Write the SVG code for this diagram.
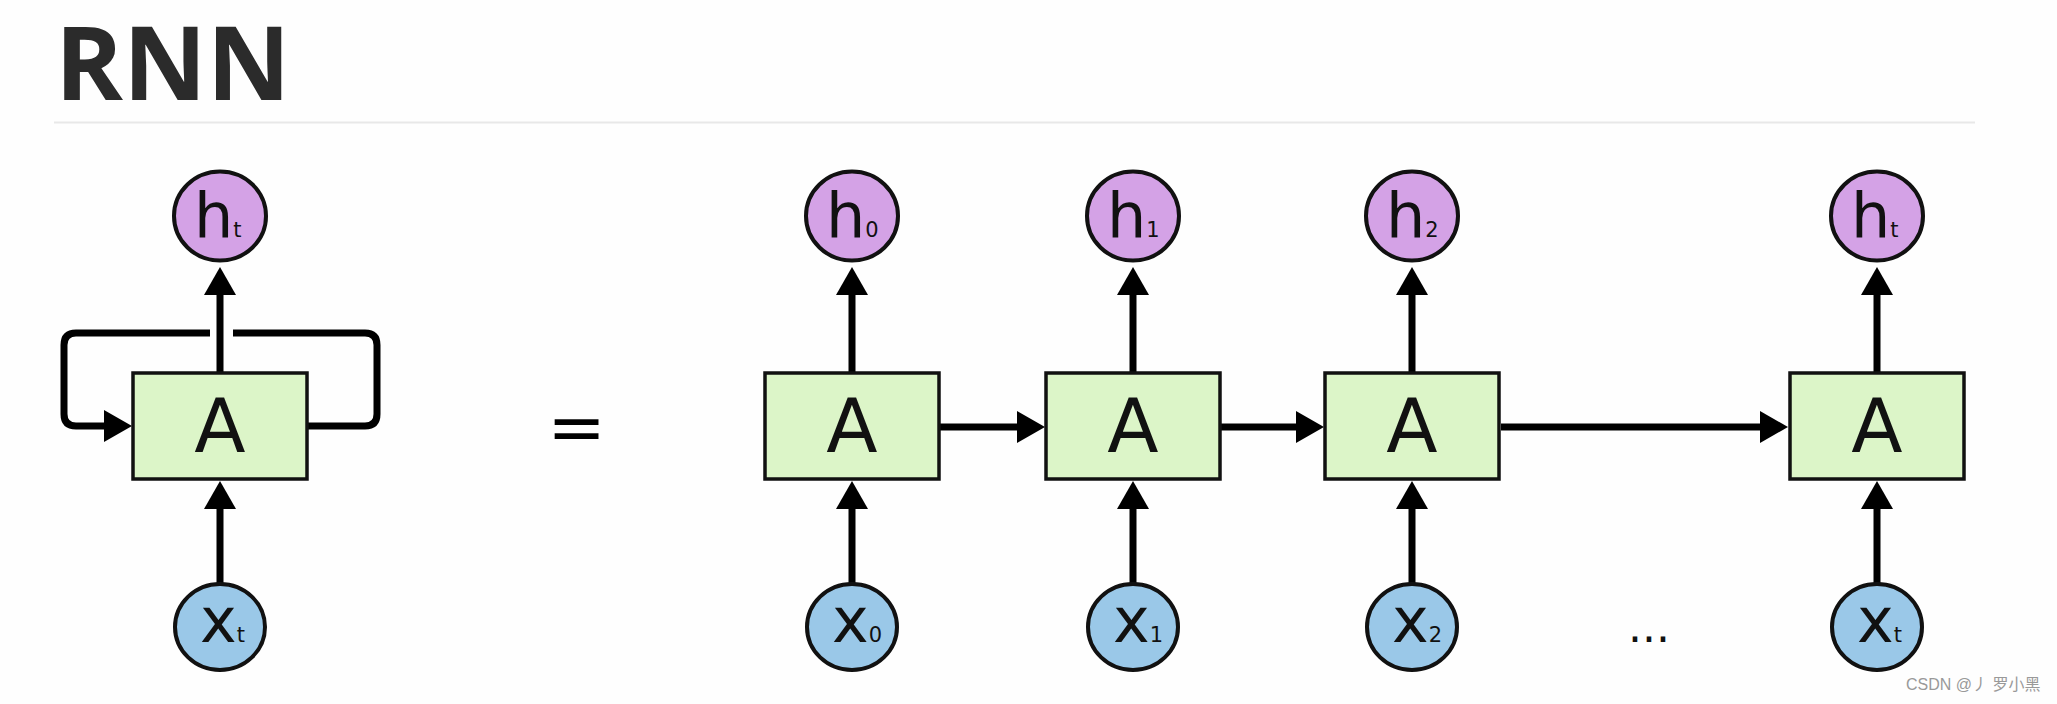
<svg xmlns="http://www.w3.org/2000/svg" width="2057" height="704" viewBox="0 0 2057 704">
<defs>
<style>
.title{font-family:"Open Sans","Liberation Sans",sans-serif;font-weight:700;font-size:103px;fill:#2b2b2b}
.box{fill:#dcf5c8;stroke:#111;stroke-width:3.5}
.hc{fill:#d4a2e6;stroke:#111;stroke-width:4}
.xc{fill:#9ac8e8;stroke:#111;stroke-width:4}
.big{font-family:"DejaVu Sans",sans-serif;font-size:75px;fill:#111;text-anchor:middle}
.lbl{font-family:"DejaVu Sans",sans-serif;font-size:62px;fill:#111}
.sub{font-size:21px}
.conn{fill:none;stroke:#000;stroke-width:7}
.eq{font-family:"DejaVu Sans",sans-serif;font-size:70px;fill:#000;text-anchor:middle}
.dots{font-family:"DejaVu Sans",sans-serif;font-size:44px;fill:#111}
.wm{font-family:"Liberation Sans","Noto Sans CJK SC",sans-serif;font-size:16px;fill:#999}
</style>
<marker id="ah" markerUnits="userSpaceOnUse" markerWidth="30" markerHeight="34" refX="1" refY="16" orient="auto" viewBox="0 0 30 34">
<path d="M0,0 L28,16 L0,32 Z" fill="#000"/>
</marker>
</defs>
<rect width="2057" height="704" fill="#fefefe"/>
<text class="title" x="55" y="100">RNN</text>
<line x1="54" y1="122.5" x2="1975" y2="122.5" stroke="#e8e8e8" stroke-width="2"/>

<g id="connectors">
<path class="conn" d="M220,373 V294" marker-end="url(#ah)"/>
<path class="conn" d="M220,584 V508" marker-end="url(#ah)"/>
<path class="conn" d="M307,426 H365 Q377,426 377,414 V345 Q377,333 365,333 H233"/>
<path class="conn" d="M210,333 H76 Q64,333 64,345 V414 Q64,426 76,426 H105" marker-end="url(#ah)"/>
<path class="conn" d="M852,373 V294" marker-end="url(#ah)"/>
<path class="conn" d="M852,584 V508" marker-end="url(#ah)"/>
<path class="conn" d="M1133,373 V294" marker-end="url(#ah)"/>
<path class="conn" d="M1133,584 V508" marker-end="url(#ah)"/>
<path class="conn" d="M1412,373 V294" marker-end="url(#ah)"/>
<path class="conn" d="M1412,584 V508" marker-end="url(#ah)"/>
<path class="conn" d="M1877,373 V294" marker-end="url(#ah)"/>
<path class="conn" d="M1877,584 V508" marker-end="url(#ah)"/>
<path class="conn" d="M939,427 H1018" marker-end="url(#ah)"/>
<path class="conn" d="M1220,427 H1297" marker-end="url(#ah)"/>
<path class="conn" d="M1501,427 H1761" marker-end="url(#ah)"/>
</g>

<g id="node-A-loop"><rect class="box" x="133" y="373" width="174" height="106"/><text class="big" x="220" y="452">A</text></g>
<g id="node-ht-loop"><ellipse class="hc" cx="220" cy="216" rx="46" ry="44.5"/><text class="lbl" x="194" y="237">h<tspan class="sub">t</tspan></text></g>
<g id="node-xt-loop"><ellipse class="xc" cx="220" cy="627" rx="45" ry="43"/><text class="lbl" x="200" y="642">x<tspan class="sub">t</tspan></text></g>

<text class="eq" x="576.5" y="451">=</text>

<g id="node-A0"><rect class="box" x="765" y="373" width="174" height="106"/><text class="big" x="852" y="452">A</text></g>
<g id="node-h0"><ellipse class="hc" cx="852" cy="216" rx="46" ry="44.5"/><text class="lbl" x="826" y="237">h<tspan class="sub">0</tspan></text></g>
<g id="node-x0"><ellipse class="xc" cx="852" cy="627" rx="45" ry="43"/><text class="lbl" x="832" y="642">x<tspan class="sub">0</tspan></text></g>

<g id="node-A1"><rect class="box" x="1046" y="373" width="174" height="106"/><text class="big" x="1133" y="452">A</text></g>
<g id="node-h1"><ellipse class="hc" cx="1133" cy="216" rx="46" ry="44.5"/><text class="lbl" x="1107" y="237">h<tspan class="sub">1</tspan></text></g>
<g id="node-x1"><ellipse class="xc" cx="1133" cy="627" rx="45" ry="43"/><text class="lbl" x="1113" y="642">x<tspan class="sub">1</tspan></text></g>

<g id="node-A2"><rect class="box" x="1325" y="373" width="174" height="106"/><text class="big" x="1412" y="452">A</text></g>
<g id="node-h2"><ellipse class="hc" cx="1412" cy="216" rx="46" ry="44.5"/><text class="lbl" x="1386" y="237">h<tspan class="sub">2</tspan></text></g>
<g id="node-x2"><ellipse class="xc" cx="1412" cy="627" rx="45" ry="43"/><text class="lbl" x="1392" y="642">x<tspan class="sub">2</tspan></text></g>

<text class="dots" x="1628" y="642">...</text>

<g id="node-At"><rect class="box" x="1790" y="373" width="174" height="106"/><text class="big" x="1877" y="452">A</text></g>
<g id="node-ht"><ellipse class="hc" cx="1877" cy="216" rx="46" ry="44.5"/><text class="lbl" x="1851" y="237">h<tspan class="sub">t</tspan></text></g>
<g id="node-xt"><ellipse class="xc" cx="1877" cy="627" rx="45" ry="43"/><text class="lbl" x="1857" y="642">x<tspan class="sub">t</tspan></text></g>

<text class="wm" x="1906" y="690">CSDN @丿 罗小黑</text>
</svg>
